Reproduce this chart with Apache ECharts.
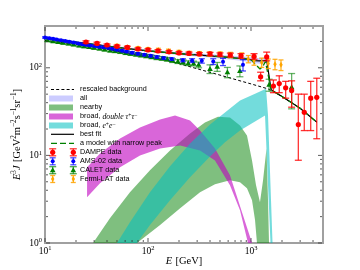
<!DOCTYPE html>
<html><head><meta charset="utf-8">
<script src="https://cdn.jsdelivr.net/npm/echarts@6/dist/echarts.min.js"></script>
<style>html,body{margin:0;padding:0;background:#fff}#c{width:360px;height:270px}</style>
</head><body><div id="c"></div>
<script>
// ---------- data ----------
const xMajorTicks = [10, 100, 1000];
const xMinorTicks = [20,30,40,50,60,70,80,90,200,300,400,500,600,700,800,900,2000,3000,4000];
const yMajorTicks = [1, 10, 100];
const yMinorTicks = [2,3,4,5,6,7,8,9,20,30,40,50,60,70,80,90,200];

// rescaled background
const bgE = [10,20,40,70,100,140,200,300,500,800,1000,1460,2000,3000,4345];
const bgF = [205,185,163,144,134,124,111.5,97.5,82.5,70.5,65.5,57.5,47,34.5,24];
// best fit
const fitE = [10,20,50,100,200,400,625,900,1100,1222,1330,1419,1570,2000,3000,4345];
const fitF = [218,196,171,156,145,137,131,126,121,120,121,122,56,47,34.5,24];
// a model with narrow peak
const narE = [10,20,50,100,200,400,625,900,1000,1100,1222,1300,1380,1419,1570,2000,3000,4345];
const narF = [218,196,171,156,145,137,131,126,124,110,97,103,118,122,56,47,34.5,24];
// "all" band
const allE  = [10,20,50,100,200,400,625,900,1100,1222,1330,1419,1570];
const allHi = [224,201,176,161,150,143,138,134,130,129,131,132,58];
const allLo = [212,191,166,151,140,131,124,118,113,111,112,113,54];
// nearby band
const nearUpE = [29.3,42.7,66.8,104.5,163.6,256,357,478,625,782,914,1023,1119,1222,1309,1414,1463,1496];
const nearUpF = [1,1.92,3.80,6.76,11.4,17.8,23.7,27.7,27.0,21.9,16.9,8.77,4.56,2.92,5.20,12.0,3.08,1];
const nearLoE = [78.2,131,205,320,447,625,782,914,1023,1094,1143];
const nearLoF = [1,1.60,2.50,3.80,4.68,5.20,4.93,4.22,3.08,1.83,1];
// broad, double tau+tau-
const tauUpE = [25.6,34.2,53.5,83.6,131,183,256,320,447,625,836,1023];
const tauUpF = [7.31,10.5,15.6,20.8,25.7,28.5,25,19.2,12,5.93,2.08,1];
const tauLoE = [25.6,34.2,53.5,83.6,131,205,320,447,625,782,935];
const tauLoF = [3.33,4.81,7.31,10,12,13,11.4,8.77,4.56,2.37,1];
// broad, e+e-
const eeUpE = [50,66.8,104.5,163.6,256,400,559,782,1094,1400,1463,1618];
const eeUpF = [1,1.73,3.80,7.5,13.7,22.5,30.8,42.2,50.7,57.7,28.5,1];
const eeLoE = [78.2,104.5,163.6,256,400,559,782,1094,1368,1546];
const eeLoF = [1,1.60,3.08,5.62,9.74,14.1,19.2,24.3,28.5,1];

// DAMPE
const dampeE = [25,32,40,50,63,80,100,125,160,200,250,315,400,500,630,800,1070,1240,1420,1650,1880,2170,2480,2880,3290,3800,4350];
const dampeF = [197,190,182,176,171,164,160,156,152,148,146,144,144,142,140,137,135,79,133,62,66,59,55,22.5,31,45,46];
const dampeErrLo = [6,6,5,5,5,5,5,5,5,5,5,5,6,6,7,8,10,8,13,10,14,14,19.5,13.7,11.8,25.8,30.5];
const dampeErrHi = [6,6,5,5,5,5,5,5,5,5,5,5,6,6,7,8,10,10,18,10.6,15,11,16,27.5,19,25,30];
// AMS-02
const amsE = [10,11,12,13,14.3,15.7,17.2,19,21,23,25,27.5,30.5,33.5,37,41,45,50,56,62,70,80,92,106,122,142,170,218,268,333,430,535,836];
const amsF = [222,218,214,210,206,202,198,195,190,186,183,180,177,174,172,169,165,161,157,153,149,145,141,137,133,129,126,122,121,120,118,117,108];
const amsErr = [4,4,4,4,4,4,4,4,4,4,4,4,4,4,4,4,4,4,4,4,4,4,4,4,4,4,4,5,6,7,9,11,16];
// CALET
const calE = [10.6,12,13.5,15,17,19,21.5,24,27,30,34,38,43,48,54,61,68,77,86,97,109,122,137,154,173,195,219,246,277,310,400,470,590,780,1500,2480];
const calF = [206,201,197,193,189,185,180,176,173,169,166,162,158,155,152,148,145,142,139,136,133,130,128,125,121,118,116,113,112,108,97,103,89,92,64,60];
const calErr = [6,6,6,6,6,6,6,6,6,6,6,6,6,6,6,6,6,6,6,6,6,6,6,6,6,6,7,7,7,8,11,12,12,13,10,26];
// Fermi-LAT
const fermiE = [50,63,80,100,126,158,200,251,316,398,501,631,813,942,1070,1270,1470,1710,1955];
const fermiF = [178,172,167,163,160,156,151,147,145,144,143,140,137,126,120,115,112,110,108];
const fermiErr = [7,7,7,7,7,7,7,7,8,8,9,10,11,12,13,14,14,15,15];

// ---------- chart ----------
const X_MIN = 10, X_MAX = 5000, Y_MIN = 1, Y_MAX = 300;
const serif = 'Liberation Serif';
const sans = 'Liberation Sans';
const zip = (a, b) => a.map((v, i) => [v, b[i]]);

function band(name, upE, upF, loE, loF, color, z) {
  const up = zip(upE, upF), lo = zip(loE, loF);
  return {
    type: 'custom', name, z, silent: true, data: [[upE[0], upF[0]]],
    renderItem: (p, api) => {
      const pts = up.map(q => api.coord(q)).concat(lo.slice().reverse().map(q => api.coord(q)));
      return {type: 'polygon', shape: {points: pts}, style: {fill: color}};
    }
  };
}
function line(name, E, F, color, width, dash, z) {
  return {type: 'line', name, z, data: zip(E, F), symbol: 'none', silent: true,
    lineStyle: {color, width, type: dash}};
}
function markerShape(kind, cx, cy, color) {
  if (kind === 'circle') return {type: 'circle', shape: {cx, cy, r: 2.6}, style: {fill: color}};
  if (kind === 'small') return {type: 'circle', shape: {cx, cy, r: 2.0}, style: {fill: color}};
  if (kind === 'tri') return {type: 'polygon', shape: {points: [[cx, cy - 3], [cx - 2.8, cy + 2], [cx + 2.8, cy + 2]]}, style: {fill: color}};
  return {type: 'polygon', shape: {points: [[cx, cy - 3], [cx + 1.7, cy], [cx, cy + 3], [cx - 1.7, cy]]}, style: {fill: color}};
}
function errSeries(name, E, F, eLo, eHi, color, barColor, kind, cap, z) {
  return {
    type: 'custom', name, z, silent: true,
    data: E.map((e, i) => [e, F[i], eLo[i], eHi[i]]),
    encode: {x: 0, y: 1},
    renderItem: (p, api) => {
      const e = api.value(0), f = api.value(1);
      const c = api.coord([e, f]);
      const a = api.coord([e, Math.max(f - api.value(2), 0.5)]);
      const b = api.coord([e, f + api.value(3)]);
      const st = {stroke: barColor, lineWidth: 1.3};
      return {type: 'group', children: [
        {type: 'line', shape: {x1: a[0], y1: a[1], x2: b[0], y2: b[1]}, style: st},
        {type: 'line', shape: {x1: a[0] - cap, y1: a[1], x2: a[0] + cap, y2: a[1]}, style: st},
        {type: 'line', shape: {x1: b[0] - cap, y1: b[1], x2: b[0] + cap, y2: b[1]}, style: st},
        markerShape(kind, c[0], c[1], color)
      ]};
    }
  };
}
const tickSeries = {
  type: 'custom', z: 20, silent: true, data: [[X_MIN, Y_MIN]],
  renderItem: (p, api) => {
    const ch = [];
    const st = {stroke: '#333', lineWidth: 0.8};
    const add = (x1, y1, x2, y2) => ch.push({type: 'line', shape: {x1, y1, x2, y2}, style: st});
    const xt = (v, len) => {
      const b = api.coord([v, Y_MIN]), t = api.coord([v, Y_MAX]);
      add(b[0], b[1] - 1, b[0], b[1] - 1 - len);
      add(t[0], t[1] + 1, t[0], t[1] + 1 + len);
    };
    const yt = (v, len) => {
      const l = api.coord([X_MIN, v]), r = api.coord([X_MAX, v]);
      add(l[0] + 1, l[1], l[0] + 1 + len, l[1]);
      add(r[0] - 1, r[1], r[0] - 1 - len, r[1]);
    };
    xMajorTicks.forEach(v => xt(v, 4)); xMinorTicks.forEach(v => xt(v, 2));
    yMajorTicks.forEach(v => yt(v, 4)); yMinorTicks.forEach(v => yt(v, 2));
    return {type: 'group', children: ch};
  }
};

const tickRich = {
  b: {fontFamily: serif, fontSize: 9.5, color: '#000', lineHeight: 12},
  s: {fontFamily: serif, fontSize: 6.5, color: '#000', verticalAlign: 'top', lineHeight: 12}
};
function tickFmt(v) {
  const l = Math.log10(v);
  if (Math.abs(l - Math.round(l)) > 1e-6) return '';
  return '{b|10}{s|' + Math.round(l) + '}';
}
const nameRich = {
  i: {fontFamily: serif, fontStyle: 'italic', fontSize: 10.5, color: '#000', lineHeight: 13},
  r: {fontFamily: serif, fontSize: 10.5, color: '#000', lineHeight: 13},
  s: {fontFamily: serif, fontSize: 7.2, color: '#000', verticalAlign: 'top', lineHeight: 13}
};

// legend (drawn as graphics)
const legRows = [89.5, 98.5, 107.5, 116.5, 125.5, 134.3, 143.3, 152.3, 161.3, 170.2, 179];
const legText = ['rescaled background', 'all', 'nearby', '{a|broad, }{m|double τ}{s|+}{m|τ}{s|−}',
  '{a|broad, }{m|e}{s|+}{m|e}{s|−}', 'best fit', 'a model with narrow peak', 'DAMPE data', 'AMS-02 data', 'CALET data', 'Fermi-LAT data'];
const G = [];
const legRich = {
  a: {fontFamily: sans, fontSize: 7.2, fill: '#000'},
  m: {fontFamily: serif, fontStyle: 'italic', fontSize: 7.8, fill: '#000'},
  s: {fontFamily: serif, fontSize: 5.5, fill: '#000', verticalAlign: 'top'}
};
legText.forEach((t, i) => G.push({type: 'text', x: 80, y: legRows[i], z: 50,
  style: {text: t, fontFamily: sans, fontSize: 7.2, fill: '#000', verticalAlign: 'middle', rich: legRich}}));
G.push({type: 'line', z: 50, shape: {x1: 51, y1: legRows[0], x2: 74, y2: legRows[0]}, style: {stroke: '#000', lineWidth: 1, lineDash: [3, 2.2]}});
[['rgba(0,0,255,0.2)', 1], ['rgba(0,128,0,0.5)', 2], ['rgba(191,0,191,0.6)', 3], ['rgba(0,191,191,0.55)', 4]].forEach(([c, i]) =>
  G.push({type: 'rect', z: 50, shape: {x: 49, y: legRows[i] - 3, width: 24, height: 6}, style: {fill: c}}));
G.push({type: 'line', z: 50, shape: {x1: 51, y1: legRows[5], x2: 74, y2: legRows[5]}, style: {stroke: '#000', lineWidth: 1.2}});
G.push({type: 'line', z: 50, shape: {x1: 51, y1: legRows[6], x2: 74, y2: legRows[6]}, style: {stroke: '#008000', lineWidth: 1.3, lineDash: [6, 3]}});
[['#ff0000', 'rgba(255,0,0,0.8)', 'circle', 3.5, 7], ['#0000ff', 'rgba(0,0,255,0.7)', 'small', 3, 8],
 ['#008000', 'rgba(0,128,0,0.7)', 'tri', 3.5, 9], ['#ffa500', 'rgba(255,165,0,0.85)', 'diamond', 2.5, 10]].forEach(([c, bc, k, cap, i]) => {
  [52.7, 73.3].forEach(x => {
    const y = legRows[i];
    const st = {stroke: bc, lineWidth: 1.3};
    G.push({type: 'line', z: 50, shape: {x1: x, y1: y - 3.5, x2: x, y2: y + 3.5}, style: st});
    G.push({type: 'line', z: 50, shape: {x1: x - cap, y1: y - 3.5, x2: x + cap, y2: y - 3.5}, style: st});
    G.push({type: 'line', z: 50, shape: {x1: x - cap, y1: y + 3.5, x2: x + cap, y2: y + 3.5}, style: st});
    const m = markerShape(k, x, y, c); m.z = 51; G.push(m);
  });
});

const option = {
  animation: false,
  grid: {left: 45, right: 37, top: 26, bottom: 27, show: true, borderColor: '#a0a0a0', borderWidth: 2,
         backgroundColor: 'transparent', outerBoundsMode: 'none', containLabel: false},
  xAxis: {type: 'log', logBase: 10, min: X_MIN, max: X_MAX,
    axisLine: {show: false}, axisTick: {show: false}, splitLine: {show: false}, minorTick: {show: false},
    axisLabel: {formatter: tickFmt, rich: tickRich, margin: 2, showMinLabel: true, showMaxLabel: true, hideOverlap: false},
    name: '{i|E} {r|[GeV]}', nameLocation: 'middle', nameGap: 12, nameMoveOverlap: false, nameTextStyle: {rich: nameRich}},
  yAxis: {type: 'log', logBase: 10, min: Y_MIN, max: Y_MAX,
    axisLine: {show: false}, axisTick: {show: false}, splitLine: {show: false}, minorTick: {show: false},
    axisLabel: {formatter: tickFmt, rich: tickRich, margin: 3, showMinLabel: true, showMaxLabel: true, hideOverlap: false},
    name: '{i|E}{s|3}{i|J} {r|[GeV}{s|2}{r|m}{s|−2}{r|s}{s|−1}{r|sr}{s|−1}{r|]}', nameLocation: 'middle', nameGap: 21, nameRotate: 90,
    nameMoveOverlap: false, nameTextStyle: {rich: nameRich}},
  graphic: G,
  series: [
    band('all', allE, allHi, allE, allLo, 'rgba(0,0,255,0.2)', 1),
    band('nearby', nearUpE, nearUpF, nearLoE, nearLoF, 'rgba(0,128,0,0.5)', 2),
    band('broad tau', tauUpE, tauUpF, tauLoE, tauLoF, 'rgba(191,0,191,0.6)', 3),
    band('broad ee', eeUpE, eeUpF, eeLoE, eeLoF, 'rgba(0,191,191,0.55)', 4),
    line('rescaled background', bgE, bgF, '#000', 1, [3, 2.2], 5),
    line('best fit', fitE, fitF, '#000', 1.2, 'solid', 6),
    line('narrow peak', narE, narF, '#008000', 1.3, [6, 3], 7),
    errSeries('Fermi-LAT', fermiE, fermiF, fermiErr, fermiErr, '#ffa500', 'rgba(255,165,0,0.85)', 'diamond', 2.5, 8),
    errSeries('CALET', calE, calF, calErr, calErr, '#008000', 'rgba(0,128,0,0.6)', 'tri', 3.5, 9),
    errSeries('AMS-02', amsE, amsF, amsErr, amsErr, '#0000ff', 'rgba(0,0,255,0.7)', 'small', 3, 10),
    errSeries('DAMPE', dampeE, dampeF, dampeErrLo, dampeErrHi, '#ff0000', 'rgba(255,0,0,0.8)', 'circle', 3.5, 11),
    tickSeries
  ]
};
const chart = echarts.init(document.getElementById('c'), null, {renderer: 'canvas'});
chart.setOption(option);
</script></body></html>
